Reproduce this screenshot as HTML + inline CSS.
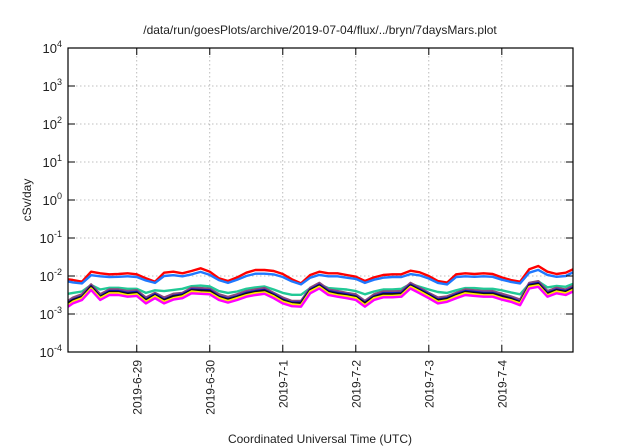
<!DOCTYPE html>
<html><head><meta charset="utf-8"><style>
html,body{margin:0;padding:0;background:#fff;}
svg{display:block;font-family:"Liberation Sans",Arial,sans-serif;}
</style></head><body>
<svg id="chart" width="640" height="448" viewBox="0 0 640 448">
<text x="320" y="34" text-anchor="middle" font-size="12" fill="#222">/data/run/goesPlots/archive/2019-07-04/flux/../bryn/7daysMars.plot</text>
<text transform="translate(31,200) rotate(-90)" text-anchor="middle" font-size="12" fill="#222">cSv/day</text>
<text x="320" y="443" text-anchor="middle" font-size="12" fill="#222">Coordinated Universal Time (UTC)</text>
<g id="grid"></g><g id="series"></g><g id="axes"></g>
</svg>
<script>
// hours since 2019-06-28 00:00 UTC, every 3 hours
const hours = [];
for (let i = 0; i <= 56; i++) hours.push(i * 3);
const yTickExps = [-4,-3,-2,-1,0,1,2,3,4];
const xTickHours = [24,48,72,96,120,144];
const xTickLabels = ["2019-6-29","2019-6-30","2019-7-1","2019-7-2","2019-7-3","2019-7-4"];
const redVals = [0.82,0.785,0.71,1.30,1.18,1.11,1.13,1.18,1.11,0.87,0.71,1.22,1.30,1.18,1.35,1.59,1.30,0.87,0.74,0.92,1.22,1.44,1.44,1.35,1.13,0.82,0.64,1.06,1.30,1.18,1.18,1.06,0.96,0.74,0.92,1.06,1.11,1.11,1.38,1.25,1.00,0.74,0.67,1.11,1.18,1.13,1.18,1.13,0.92,0.785,0.71,1.50,1.83,1.30,1.13,1.22,1.50]; // e-2
const blueVals = [0.72,0.68,0.64,1.05,0.98,0.94,0.95,0.98,0.94,0.76,0.66,1.0,1.05,0.98,1.1,1.28,1.07,0.78,0.66,0.8,1.0,1.15,1.15,1.1,0.94,0.72,0.6,0.9,1.07,0.98,0.98,0.9,0.84,0.66,0.8,0.9,0.94,0.94,1.12,1.04,0.86,0.66,0.6,0.94,0.98,0.95,0.98,0.95,0.8,0.7,0.64,1.22,1.45,1.07,0.95,1.0,1.25]; // e-2
const tealVals = [3.4,3.6,3.9,5.8,4.4,4.9,4.9,4.6,4.6,3.6,4.2,4.0,4.3,4.6,5.4,5.6,5.3,4.0,3.6,3.9,4.6,5.0,5.3,4.4,3.6,3.2,3.2,4.8,6.0,4.8,4.6,4.4,4.0,3.3,3.9,4.4,4.4,4.6,6.2,5.2,4.4,3.8,3.6,4.2,4.8,4.8,4.6,4.6,4.2,3.7,3.3,6.2,7.2,5.0,5.5,5.2,6.2]; // e-3
const brownVals = [2.2,2.7,3.3,6.0,3.3,4.4,4.4,4.0,4.2,2.7,3.6,2.7,3.4,3.6,4.9,4.8,4.6,3.3,2.8,3.3,4.0,4.4,4.8,3.6,2.7,2.2,2.2,4.9,6.6,4.4,4.0,3.6,3.3,2.2,3.3,3.9,3.9,4.0,6.6,4.9,3.6,2.7,2.9,3.6,4.4,4.2,4.0,4.0,3.4,2.9,2.4,6.6,7.3,4.0,4.9,4.4,5.5];
const navyVals = [2.0,2.4,2.9,5.4,2.9,4.0,4.0,3.6,3.8,2.4,3.3,2.4,3.0,3.3,4.4,4.3,4.2,2.9,2.5,2.9,3.6,4.0,4.3,3.3,2.4,2.0,2.0,4.4,5.9,4.0,3.6,3.3,2.9,2.0,2.9,3.5,3.5,3.6,5.9,4.4,3.3,2.4,2.6,3.3,4.0,3.8,3.6,3.6,3.0,2.6,2.1,5.9,6.5,3.6,4.4,4.0,4.9];
const blackVals = [1.9,2.3,2.8,5.2,2.8,3.8,3.8,3.4,3.6,2.3,3.1,2.3,2.9,3.1,4.2,4.1,4.0,2.8,2.4,2.8,3.4,3.8,4.1,3.1,2.3,1.9,1.9,4.2,5.6,3.8,3.4,3.1,2.8,1.9,2.8,3.3,3.3,3.4,5.6,4.2,3.1,2.3,2.5,3.1,3.8,3.6,3.4,3.4,2.9,2.5,2.0,5.6,6.2,3.4,4.2,3.8,4.7];
const yellowVals = [1.7,2.1,2.6,4.7,2.6,3.5,3.5,3.1,3.3,2.1,2.9,2.1,2.6,2.9,3.9,3.7,3.6,2.6,2.2,2.6,3.1,3.5,3.7,2.9,2.1,1.8,1.7,3.9,5.2,3.5,3.1,2.9,2.6,1.7,2.6,3.0,3.0,3.1,5.2,3.9,2.9,2.1,2.3,2.9,3.5,3.3,3.1,3.1,2.6,2.3,1.9,5.2,5.7,3.1,3.9,3.5,4.3];
const magentaVals = [1.56,1.9,2.33,4.3,2.33,3.16,3.16,2.86,3.0,1.9,2.6,1.9,2.4,2.6,3.5,3.4,3.3,2.33,2.0,2.33,2.86,3.16,3.4,2.6,1.9,1.6,1.56,3.5,4.7,3.16,2.86,2.6,2.33,1.56,2.33,2.75,2.75,2.86,4.7,3.5,2.6,1.9,2.1,2.6,3.16,3.0,2.86,2.86,2.4,2.1,1.7,4.7,5.2,2.86,3.5,3.16,3.9];

const NS = "http://www.w3.org/2000/svg";
const L = 68, R = 573, T = 48, B = 352;
const H0 = 1.4, H1 = 167.4;
function xScale(h){ return L + (Math.min(Math.max(h,H0),H1) - H0) / (H1 - H0) * (R - L); }
function yScale(v){ return B - (Math.log10(v) + 4) / 8 * (B - T); }
function mk(tag, attrs, parent){ const e = document.createElementNS(NS, tag); for (const k in attrs) e.setAttribute(k, attrs[k]); parent.appendChild(e); return e; }
const grid = document.getElementById('grid'), axes = document.getElementById('axes'), ser = document.getElementById('series');

yTickExps.forEach(p => {
  const y = yScale(Math.pow(10, p));
  if (p > -4 && p < 4) {
    const g = mk('line', {x1:L, x2:R, y1:y, y2:y, stroke:'#aaa', 'stroke-width':0.8, 'stroke-dasharray':'1.5,2.5'}, grid);
    
    
  }
  mk('line', {x1:L, x2:L+7, y1:y, y2:y, stroke:'#000', 'stroke-width':1}, axes);
  mk('line', {x1:R-7, x2:R, y1:y, y2:y, stroke:'#000', 'stroke-width':1}, axes);
  const t = mk('text', {x:62, y:y+5, 'text-anchor':'end', 'font-size':13, fill:'#222'}, axes);
  
  
  t.textContent = '10';
  const s = mk('tspan', {dy:-6, 'font-size':9}, t);
  s.textContent = String(p);
});

xTickHours.forEach((h, i) => {
  const x = xScale(h);
  const g = mk('line', {x1:x, x2:x, y1:T, y2:B, stroke:'#aaa', 'stroke-width':0.8, 'stroke-dasharray':'1.5,2.5'}, grid);
  
  
  mk('line', {x1:x, x2:x, y1:B-7, y2:B, stroke:'#000', 'stroke-width':1}, axes);
  mk('line', {x1:x, x2:x, y1:T, y2:T+7, stroke:'#000', 'stroke-width':1}, axes);
  const t = mk('text', {transform:`translate(${x+4.5},360) rotate(-90)`, 'text-anchor':'end', 'font-size':12, fill:'#222'}, axes);
  
  
  t.textContent = xTickLabels[i];
});

const frame = mk('rect', {x:L, y:T, width:R-L, height:B-T, fill:'none', stroke:'#000', 'stroke-width':1.2}, axes);



const seriesList = [
  ['series-red', redVals, 1e-2, '#ff0000'],
  ['series-blue', blueVals, 1e-2, '#1f78ff'],
  ['series-teal', tealVals, 1e-3, '#22c996'],
  ['series-brown', brownVals, 1e-3, '#8a4a7a'],
  ['series-navy', navyVals, 1e-3, '#1010d0'],
  ['series-black', blackVals, 1e-3, '#111111'],
  ['series-yellow', yellowVals, 1e-3, '#ffee00'],
  ['series-magenta', magentaVals, 1e-3, '#ff00ff']
];
seriesList.forEach(([name, vals, unit, color]) => {
  const d = vals.map((v, i) => (i ? 'L' : 'M') + xScale(hours[i]).toFixed(1) + ',' + yScale(v * unit).toFixed(1)).join('');
  const p = mk('path', {d:d, fill:'none', stroke:color, 'stroke-width':2.4, 'stroke-linejoin':'round'}, ser);
  
  
});
</script>
</body></html>
